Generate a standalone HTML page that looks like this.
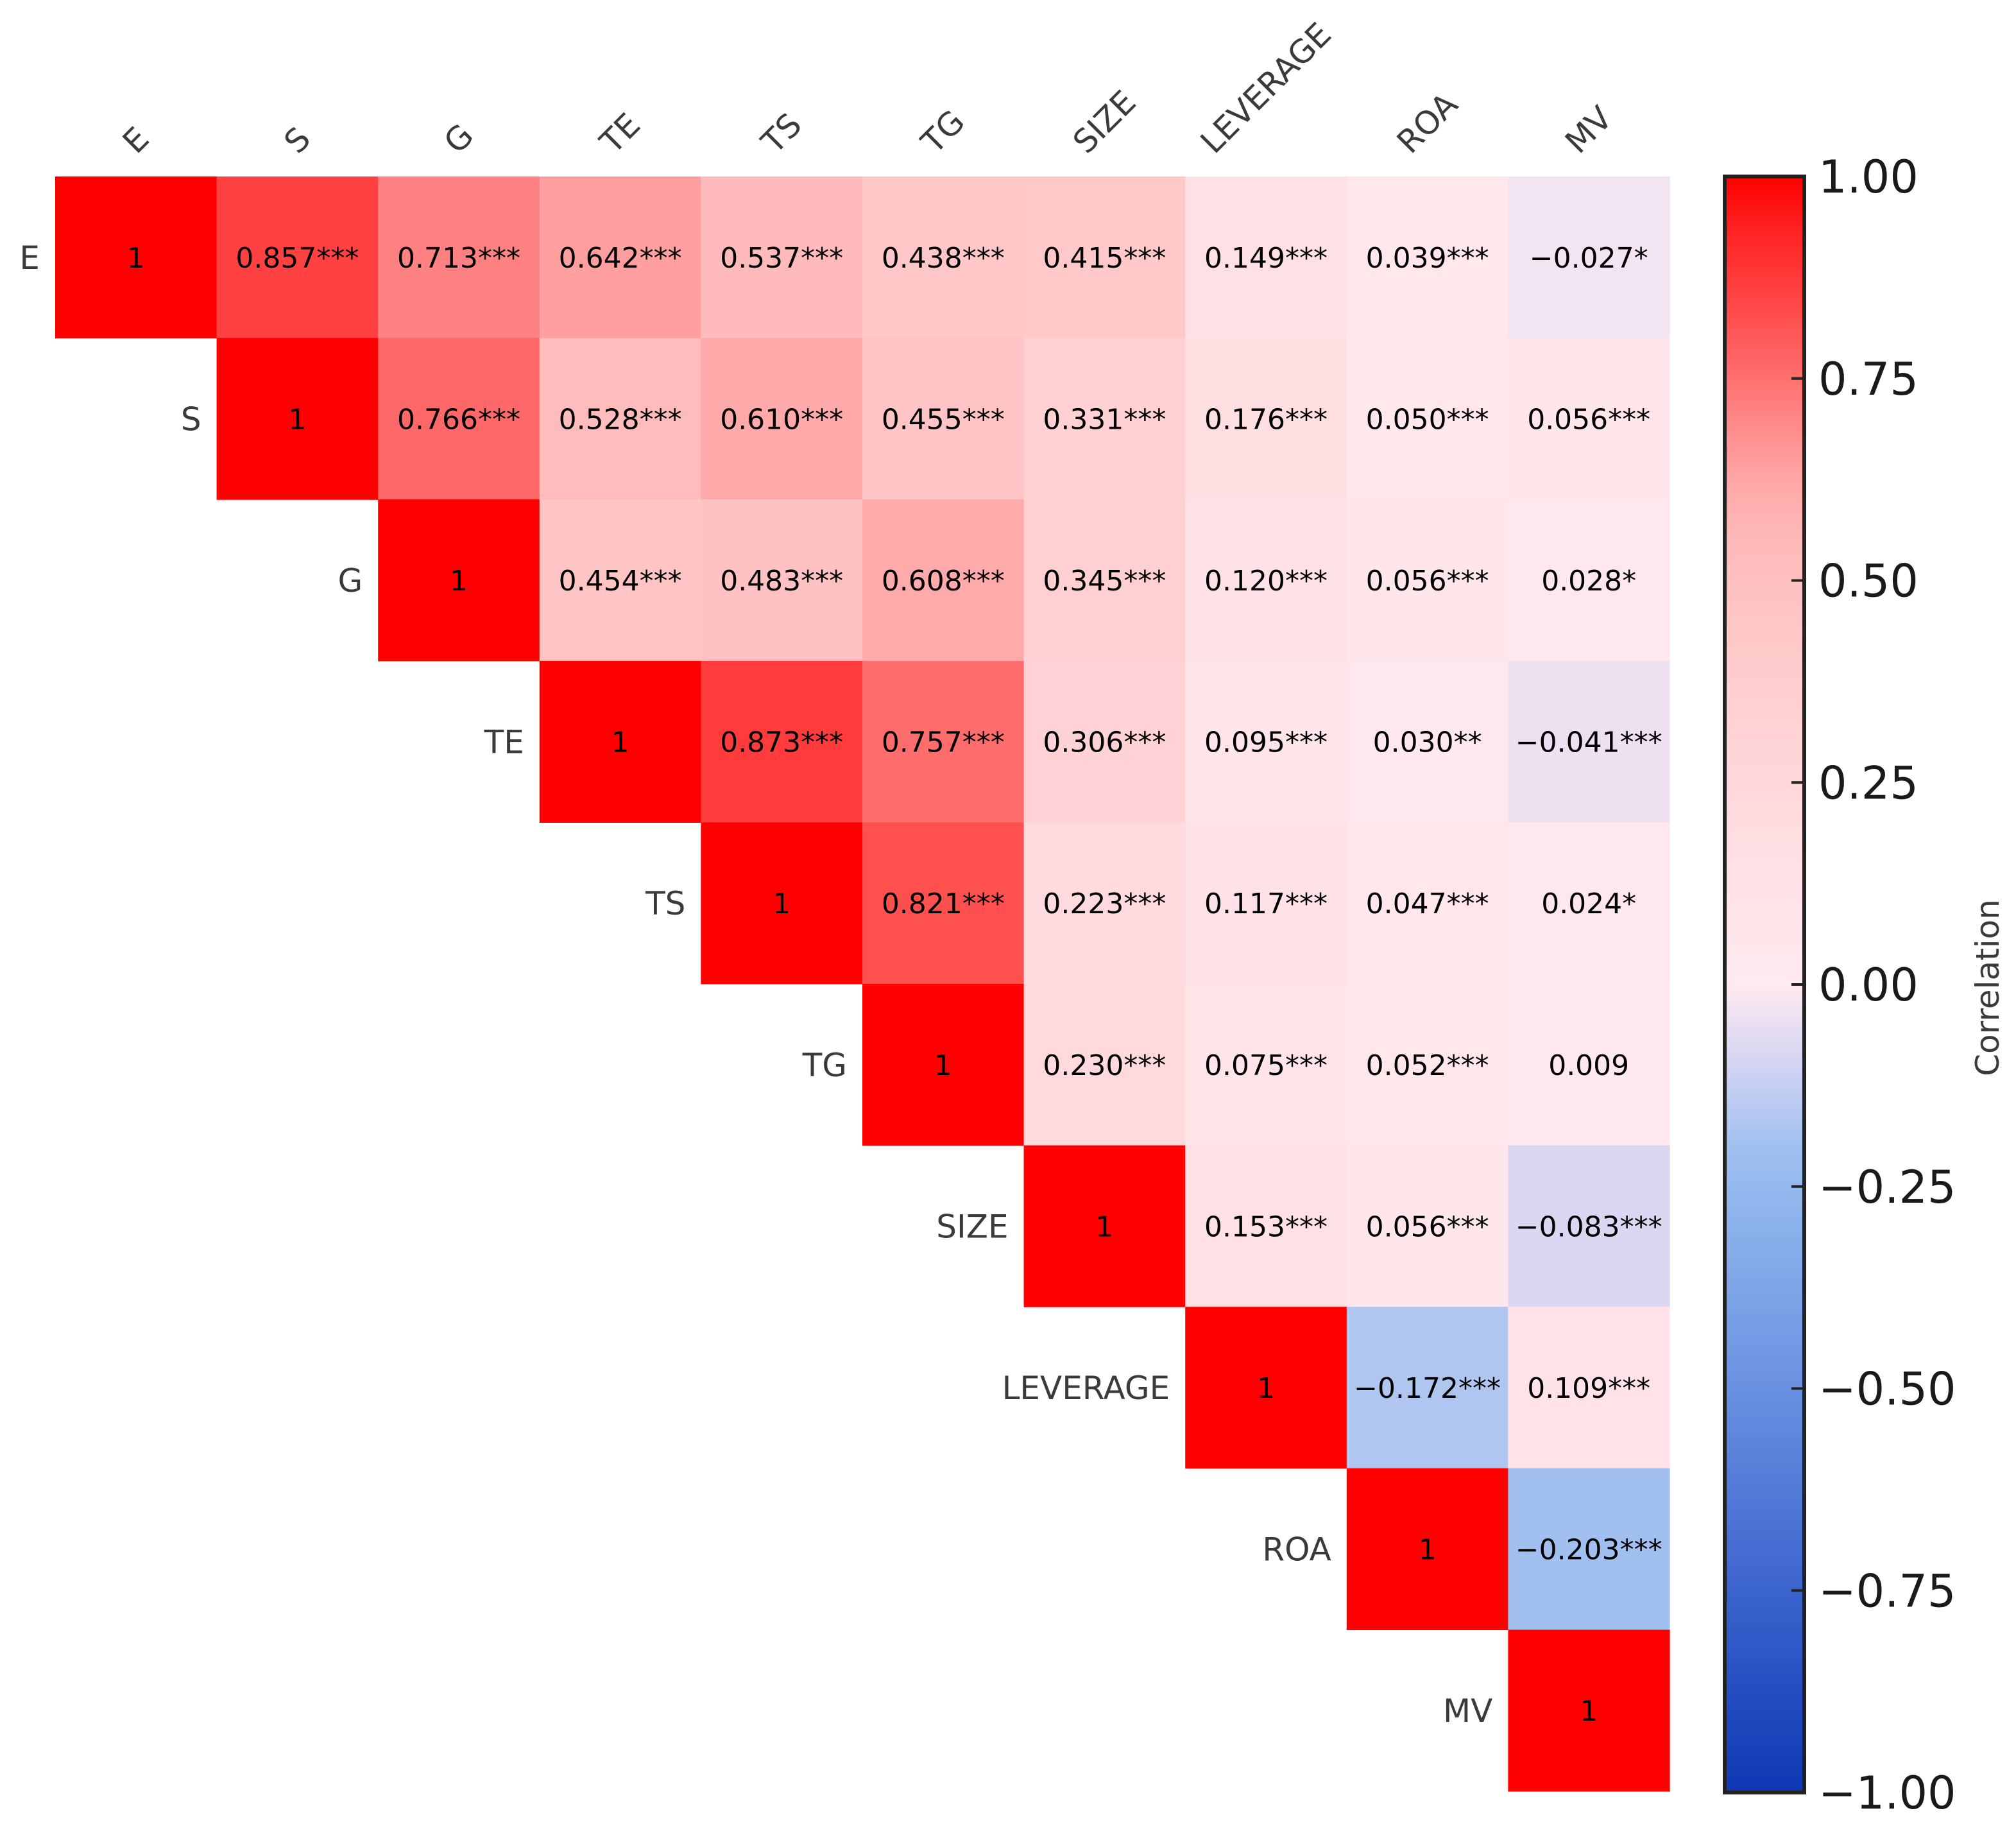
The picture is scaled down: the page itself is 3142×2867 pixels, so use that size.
<!DOCTYPE html>
<html><head><meta charset="utf-8">
<style>
html,body{margin:0;padding:0;background:#fff;}
svg{display:block;font-family:"DejaVu Sans","Liberation Sans",sans-serif;}
</style></head>
<body>
<svg id="chart" width="3142" height="2867" viewBox="0 0 3142 2867" xmlns="http://www.w3.org/2000/svg">
<defs>
<linearGradient id="cbgrad" x1="0" y1="0" x2="0" y2="1"></linearGradient>
</defs>
<g id="cells"></g>
<g id="annots"></g>
<g id="xlabels"></g>
<g id="ylabels"></g>
<g id="colorbar"></g>
</svg>
<script>
const variables = ["E","S","G","TE","TS","TG","SIZE","LEVERAGE","ROA","MV"];
const rowE = [1,0.857,0.713,0.642,0.537,0.438,0.415,0.149,0.039,-0.027];
const rowS = [0.766,0.528,0.610,0.455,0.331,0.176,0.050,0.056];
const rowG = [0.454,0.483,0.608,0.345,0.120,0.056,0.028];
const rowTE = [0.873,0.757,0.306,0.095,0.030,-0.041];
const rowTS = [0.821,0.223,0.117,0.047,0.024];
const rowTG = [0.230,0.075,0.052,0.009];
const rowSIZE = [0.153,0.056,-0.083];
const rowLEV = [-0.172,0.109];
const rowROA = [-0.203];
const starsE = ["","***","***","***","***","***","***","***","***","*"];
const starsS = ["***","***","***","***","***","***","***","***"];
const starsG = ["***","***","***","***","***","***","*"];
const starsTE = ["***","***","***","***","**","***"];
const starsTS = ["***","***","***","***","*"];
const starsTG = ["***","***","***",""];
const starsSIZE = ["***","***","***"];
const starsLEV = ["***","***"];
const starsROA = ["***"];
const cbTicks = [1.00,0.75,0.50,0.25,0.00,-0.25,-0.50,-0.75,-1.00];
const cbTickLabels = ["1.00","0.75","0.50","0.25","0.00","\u22120.25","\u22120.50","\u22120.75","\u22121.00"];

const NS="http://www.w3.org/2000/svg";
const X0=86, Y0=275, CS=251.6;
const CBX=2688, CBW=124, CBTOP=275, CBBOT=2793;
function xPos(i){return X0+i*CS;}
function yPos(i){return Y0+i*CS;}
function cbY(v){return CBTOP+(1-v)/2*(CBBOT-CBTOP);}
const cmapStops=[[-1,[15,55,180]],[-0.75,[60,100,205]],[-0.5,[105,145,225]],[-0.25,[148,185,238]],[-0.2,[162,192,240]],[-0.1,[210,212,242]],[-0.05,[232,222,242]],[0,[255,234,239]],[0.15,[255,224,229]],[0.3,[255,212,214]],[0.45,[255,198,198]],[0.55,[255,185,185]],[0.62,[255,168,168]],[0.7,[255,135,135]],[0.77,[255,102,102]],[0.86,[255,64,64]],[0.93,[255,36,36]],[1,[255,0,0]]];
function cmap(v){
  for(let k=0;k<cmapStops.length-1;k++){
    const a=cmapStops[k],b=cmapStops[k+1];
    if(v<=b[0]){const t=(v-a[0])/(b[0]-a[0]);
      const c=a[1].map((x,j)=>Math.round(x+(b[1][j]-x)*t));
      return `rgb(${c[0]},${c[1]},${c[2]})`;}
  }
  return "rgb(255,0,0)";
}
function mk(tag,attrs,parent){const e=document.createElementNS(NS,tag);for(const k in attrs)e.setAttribute(k,attrs[k]);parent.appendChild(e);return e;}

const rows=[rowE,rowS,rowG,rowTE,rowTS,rowTG,rowSIZE,rowLEV,rowROA,[]];
const stars=[starsE,starsS,starsG,starsTE,starsTS,starsTG,starsSIZE,starsLEV,starsROA,[]];
const gC=document.getElementById('cells'), gA=document.getElementById('annots');
for(let r=0;r<variables.length;r++){
  let vals, st;
  if(r===0){vals=rows[0];st=stars[0];}
  else{vals=[1].concat(rows[r]);st=[""].concat(stars[r]);}
  for(let k=0;k<vals.length;k++){
    const c=r+k, v=vals[k];
    const rect=mk('rect',{x:xPos(c),y:yPos(r),width:CS+0.6,height:CS+0.6,fill:cmap(v)},gC);
    
    
    const txt=(v===1&&k===0)?"1":(v<0?"\u2212":"")+Math.abs(v).toFixed(3)+st[k];
    const t=mk('text',{x:xPos(c)+CS/2,y:yPos(r)+CS/2+16,'text-anchor':'middle','font-size':'44',fill:'#000'},gA);
    t.textContent=txt;
    
    
  }
}
const gY=document.getElementById('ylabels');
variables.forEach((n,i)=>{
  const t=mk('text',{x:xPos(i)-24,y:yPos(i)+CS/2+18,'text-anchor':'end','font-size':'50',fill:'#3a3a3a'},gY);
  t.textContent=n;
  
  
});
const gX=document.getElementById('xlabels');
variables.forEach((n,i)=>{
  const t=mk('text',{'text-anchor':'middle','dominant-baseline':'central','font-size':'50',fill:'#3a3a3a'},gX);
  t.textContent=n;
  
  
  const w=t.getComputedTextLength(), h=40;
  const half=(w+h)*0.35355;
  const cx=xPos(i)+CS/2, cy=244-half;
  t.setAttribute('transform',`translate(${cx},${cy}) rotate(-45)`);
});
const grad=document.getElementById('cbgrad');
cmapStops.slice().reverse().forEach(s=>{
  mk('stop',{offset:((1-s[0])/2*100)+'%','stop-color':cmap(s[0])},grad);
});
const gB=document.getElementById('colorbar');
const bar=mk('rect',{x:CBX,y:CBTOP,width:CBW,height:CBBOT-CBTOP,fill:'url(#cbgrad)',stroke:'#222','stroke-width':'6'},gB);


cbTicks.forEach((v,i)=>{
  const y=cbY(v);
  if(i>0&&i<cbTicks.length-1){
    const l=mk('line',{x1:CBX+CBW-20,x2:CBX+CBW,y1:y,y2:y,stroke:'#222','stroke-width':'4'},gB);
    
    
  }
  const t=mk('text',{x:CBX+CBW+22,y:y+25,'font-size':'70',fill:'#1a1a1a'},gB);
  t.textContent=cbTickLabels[i];
  
  
});
const cl=mk('text',{'text-anchor':'middle','dominant-baseline':'central','font-size':'50',fill:'#3a3a3a',transform:'translate(3098,1539) rotate(-90)'},gB);
cl.textContent="Correlation";


</script>
</body></html>
